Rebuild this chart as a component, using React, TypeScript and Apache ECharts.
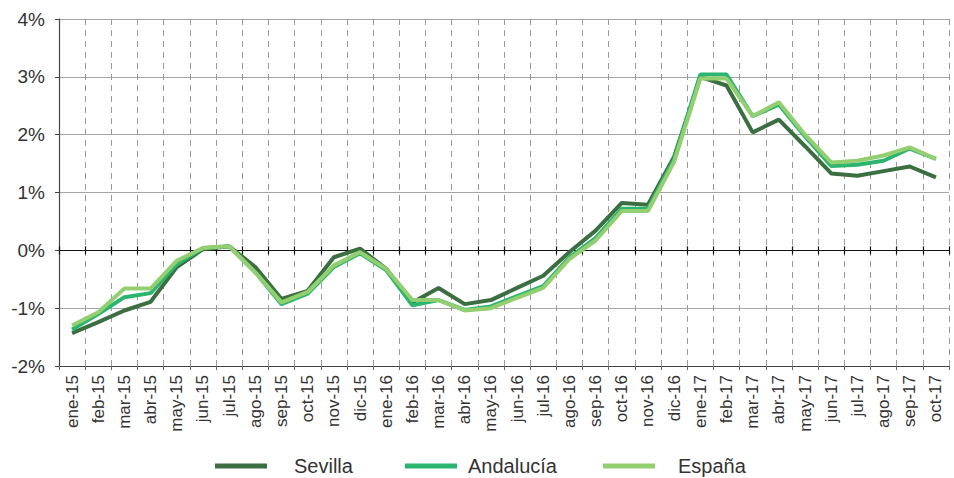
import React, { useEffect, useRef } from "react";
import * as echarts from "echarts";

const categories = [
  "ene-15", "feb-15", "mar-15", "abr-15", "may-15", "jun-15", "jul-15", "ago-15", "sep-15", "oct-15", "nov-15", "dic-15",
  "ene-16", "feb-16", "mar-16", "abr-16", "may-16", "jun-16", "jul-16", "ago-16", "sep-16", "oct-16", "nov-16", "dic-16",
  "ene-17", "feb-17", "mar-17", "abr-17", "may-17", "jun-17", "jul-17", "ago-17", "sep-17", "oct-17",
];

const sevilla = [
  -1.43, -1.24, -1.04, -0.89, -0.29, 0.02, 0.07, -0.29, -0.84, -0.7, -0.12, 0.03,
  -0.32, -0.9, -0.65, -0.93, -0.86, -0.65, -0.44, -0.03, 0.34, 0.82, 0.79, 1.62,
  3.0, 2.85, 2.04, 2.26, 1.8, 1.33, 1.29, 1.37, 1.45, 1.26,
];

const andalucia = [
  -1.37, -1.1, -0.81, -0.74, -0.24, 0.04, 0.07, -0.38, -0.93, -0.75, -0.29, -0.05,
  -0.34, -0.95, -0.86, -1.03, -0.97, -0.79, -0.62, -0.12, 0.21, 0.72, 0.72, 1.58,
  3.04, 3.04, 2.32, 2.52, 1.97, 1.46, 1.48, 1.55, 1.76, 1.58,
];

const espana = [
  -1.3, -1.07, -0.66, -0.66, -0.18, 0.04, 0.07, -0.38, -0.9, -0.72, -0.26, -0.03,
  -0.32, -0.86, -0.86, -1.04, -1.0, -0.82, -0.65, -0.15, 0.17, 0.68, 0.68, 1.53,
  2.97, 2.97, 2.32, 2.56, 2.0, 1.52, 1.55, 1.64, 1.78, 1.58,
];

const seriesNames = ["Sevilla", "Andalucía", "España"];
const colors = ["#3b6e41", "#2bb56f", "#93cf70"];

const FONT = "'Liberation Sans', Arial, sans-serif";

// legend placement (swatch left edge, extra gap before text)
const legendLeft = [215, 405, 603];
const legendPad = [22, 6, 18];

export default function App() {
  const ref = useRef<HTMLDivElement>(null);
  useEffect(() => {
    if (!ref.current) return;
    const chart = echarts.init(ref.current, undefined, { renderer: "svg" });
    const values = [sevilla, andalucia, espana];
    const hiddenAxis = (inside: boolean) => ({
      type: "category",
      data: categories,
      position: "bottom",
      boundaryGap: true,
      axisLine: { show: true, onZero: true, onZeroAxisIndex: 0, lineStyle: { color: "#111", width: 1.2 } },
      axisTick: { show: true, inside, length: 4, interval: 0, lineStyle: { color: "#111", width: 1.2 } },
      axisLabel: { show: false },
      splitLine: { show: false },
    });
    chart.setOption({
      animation: false,
      textStyle: { fontFamily: FONT },
      grid: { left: 59, right: 5, top: 19, bottom: 112, containLabel: false },
      legend: seriesNames.map((name, i) => ({
        left: legendLeft[i],
        top: 456,
        padding: 0,
        icon: "rect",
        itemWidth: 52,
        itemHeight: 5,
        data: [name],
        textStyle: { fontSize: 20, color: "#333", fontFamily: FONT, padding: [0, 0, 0, legendPad[i]] },
      })),
      xAxis: [
        {
          type: "category",
          data: categories,
          position: "bottom",
          boundaryGap: true,
          axisLine: { show: true, onZero: false, lineStyle: { color: "#444", width: 1.2 } },
          axisTick: { show: true, length: 4, interval: 0, lineStyle: { color: "#666" } },
          axisLabel: { interval: 0, rotate: 90, fontSize: 17, color: "#333", margin: 9, fontFamily: FONT },
          splitLine: { show: true, interval: 0, lineStyle: { color: "#9a9a9a", type: [6, 5], width: 1 } },
        },
        hiddenAxis(true),
        hiddenAxis(false),
      ],
      yAxis: {
        type: "value",
        min: -2,
        max: 4,
        interval: 1,
        axisLine: { show: true, lineStyle: { color: "#444", width: 1.2 } },
        axisTick: { show: true, length: 4, lineStyle: { color: "#444" } },
        axisLabel: { formatter: "{value}%", fontSize: 19, color: "#333", margin: 14, fontFamily: FONT },
        splitLine: { show: true, lineStyle: { color: "#a6a6a6", width: 1 } },
      },
      series: seriesNames.map((name, i) => ({
        name,
        type: "line",
        data: values[i],
        symbol: "none",
        xAxisIndex: 0,
        lineStyle: { color: colors[i], width: 4 },
        itemStyle: { color: colors[i] },
        z: 3 + i,
      })),
    });
    return () => chart.dispose();
  }, []);
  return <div ref={ref} style={{ width: 954, height: 478, position: "absolute", left: 0, top: 0 }} />;
}
